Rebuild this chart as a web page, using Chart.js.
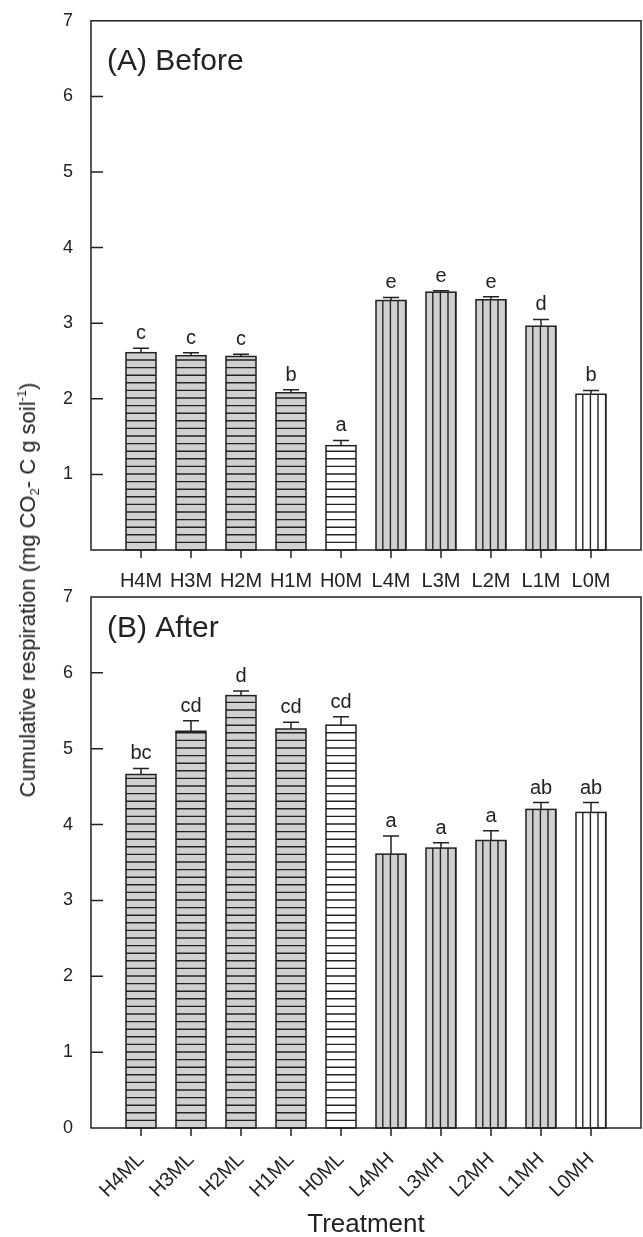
<!DOCTYPE html>
<html>
<head>
<meta charset="utf-8">
<script src="https://cdn.jsdelivr.net/npm/chart.js@4.4.1/dist/chart.umd.min.js"></script>
<style>
html, body { margin: 0; padding: 0; background: #fff; overflow: hidden; }
#wrap { position: relative; width: 643px; height: 1237px; overflow: hidden; }
#chartA { position: absolute; left: 0; top: 0; }
#chartB { position: absolute; left: 0; top: 560px; }
#ytitle {
    position: absolute; left: 28px; top: 590px;
    transform: translate(-50%, -50%) rotate(-90deg);
    white-space: nowrap; line-height: 1;
    font: 22px 'Liberation Sans', Arial, sans-serif; color: #222;
}
#ytitle sub, #ytitle sup { font-size: 13px; line-height: 0; position: relative; vertical-align: baseline; }
#ytitle sub { top: 4px; }
#ytitle sup { top: -9px; }
</style>
</head>
<body>
<div id="wrap">
    <canvas id="chartA" width="643" height="595"></canvas>
    <canvas id="chartB" width="643" height="690"></canvas>
    <div id="ytitle">Cumulative respiration (mg CO<sub>2</sub>- C g soil<sup>-1</sup>)</div>
</div>
<script>
// 数据 (A) Before
const labelsA = ['H4M', 'H3M', 'H2M', 'H1M', 'H0M', 'L4M', 'L3M', 'L2M', 'L1M', 'L0M'];
const valuesA = [2.61, 2.57, 2.56, 2.08, 1.38, 3.30, 3.41, 3.31, 2.96, 2.06];
const errorsA = [0.06, 0.04, 0.03, 0.04, 0.07, 0.04, 0.02, 0.04, 0.09, 0.05];
const lettersA = ['c', 'c', 'c', 'b', 'a', 'e', 'e', 'e', 'd', 'b'];
const yTicksA = [1, 2, 3, 4, 5, 6, 7];

// 数据 (B) After
const labelsB = ['H4ML', 'H3ML', 'H2ML', 'H1ML', 'H0ML', 'L4MH', 'L3MH', 'L2MH', 'L1MH', 'L0MH'];
const valuesB = [4.66, 5.23, 5.70, 5.26, 5.31, 3.61, 3.69, 3.79, 4.20, 4.16];
const errorsB = [0.08, 0.14, 0.06, 0.09, 0.11, 0.24, 0.07, 0.13, 0.09, 0.13];
const lettersB = ['bc', 'cd', 'd', 'cd', 'cd', 'a', 'a', 'a', 'ab', 'ab'];
const yTicksB = [0, 1, 2, 3, 4, 5, 6, 7];

const FONT = "'Liberation Sans', Arial, sans-serif";
const INK = '#222';
const GRAY = '#d0d0d0';

// 画误差线、字母、阴影线、边框和刻度
const panelPlugin = {
    id: 'panel',
    afterDatasetsDraw(chart, args, opts) {
        const ctx = chart.ctx;
        const yScale = chart.scales.y;
        const ds = chart.data.datasets[0];
        const meta = chart.getDatasetMeta(0);
        meta.data.forEach((bar, i) => {
            const v = ds.data[i];
            if (v == null) return;
            const { x, y, base, width } = bar.getProps(['x', 'y', 'base', 'width'], true);
            const left = x - width / 2, right = x + width / 2;
            const label = chart.data.labels[i];

            // 阴影线
            ctx.save();
            ctx.beginPath();
            ctx.rect(left, y, width, base - y);
            ctx.clip();
            ctx.strokeStyle = INK;
            ctx.lineWidth = 1.4;
            ctx.beginPath();
            if (label[0] === 'H') {
                for (let yy = base - 7.6; yy > y + 1.5; yy -= 7.6) {
                    ctx.moveTo(left, yy);
                    ctx.lineTo(right, yy);
                }
            } else {
                for (let xx = left + 6.8; xx < right; xx += 7.6) {
                    ctx.moveTo(xx, y);
                    ctx.lineTo(xx, base);
                }
            }
            ctx.stroke();
            ctx.restore();

            ctx.save();
            ctx.strokeStyle = INK;
            ctx.lineWidth = 1.5;
            ctx.strokeRect(left, y, width, base - y);

            // 误差线
            const e = opts.errors[i - 1];
            const yErr = yScale.getPixelForValue(v + e);
            ctx.beginPath();
            ctx.moveTo(x, y);
            ctx.lineTo(x, yErr);
            ctx.moveTo(x - 8, yErr);
            ctx.lineTo(x + 8, yErr);
            ctx.stroke();

            // 显著性字母
            ctx.fillStyle = INK;
            ctx.font = '20px ' + FONT;
            ctx.textAlign = 'center';
            ctx.textBaseline = 'alphabetic';
            ctx.fillText(opts.letters[i - 1], x, yErr - 9);
            ctx.restore();
        });
    },
    afterDraw(chart, args, opts) {
        const ctx = chart.ctx;
        const a = chart.chartArea;
        const xScale = chart.scales.x;
        const yScale = chart.scales.y;
        ctx.save();
        ctx.strokeStyle = INK;
        ctx.lineWidth = 1.5;
        ctx.strokeRect(a.left, a.top, a.right - a.left, a.bottom - a.top);

        ctx.beginPath();
        opts.yTicks.forEach(t => {
            if (t <= yScale.min || t >= yScale.max) return;
            const py = yScale.getPixelForValue(t);
            ctx.moveTo(a.left, py);
            ctx.lineTo(a.left + 12, py);
        });
        for (let i = 1; i < chart.data.labels.length - 1; i++) {
            const px = xScale.getPixelForValue(i);
            ctx.moveTo(px, a.bottom);
            ctx.lineTo(px, a.bottom + 8);
        }
        ctx.stroke();

        ctx.fillStyle = INK;
        ctx.font = '30px ' + FONT;
        ctx.textAlign = 'left';
        ctx.textBaseline = 'alphabetic';
        ctx.fillText(opts.title, a.left + 16, a.top + opts.titleOffset);
        ctx.restore();
    }
};

function makeChart(id, labels, values, errors, letters, yTicks, cfg) {
    const ctx = document.getElementById(id).getContext('2d');
    return new Chart(ctx, {
        type: 'bar',
        data: {
            labels: [''].concat(labels, ['']),
            datasets: [{
                data: [null].concat(values, [null]),
                backgroundColor: [null].concat(labels.map(l => l.indexOf('0') >= 0 ? '#ffffff' : GRAY), [null]),
                borderWidth: 0,
                barThickness: 30
            }]
        },
        options: {
            responsive: false,
            animation: false,
            events: [],
            layout: { padding: { top: cfg.top, right: 2, left: 0, bottom: 0 } },
            plugins: {
                legend: { display: false },
                tooltip: { enabled: false },
                panel: { errors: errors, letters: letters, yTicks: yTicks, title: cfg.title, titleOffset: cfg.titleOffset }
            },
            scales: {
                x: {
                    type: 'category',
                    offset: false,
                    grid: { display: false },
                    border: { display: false },
                    ticks: {
                        autoSkip: false,
                        minRotation: cfg.rotation,
                        maxRotation: cfg.rotation,
                        padding: cfg.labelPad,
                        color: INK,
                        font: { family: FONT, size: 20 }
                    },
                    title: cfg.xTitle ? {
                        display: true,
                        text: cfg.xTitle,
                        color: INK,
                        font: { family: FONT, size: 26 },
                        padding: { top: 0, bottom: 10 }
                    } : { display: false },
                    afterFit(scale) {
                        scale.height = cfg.xHeight;
                        scale.paddingLeft = 0;
                        scale.paddingRight = 0;
                    }
                },
                y: {
                    min: 0,
                    max: 7,
                    grid: { display: false },
                    border: { display: false },
                    ticks: {
                        stepSize: 1,
                        padding: 10,
                        color: INK,
                        font: { family: FONT, size: 18 },
                        callback: v => yTicks.includes(v) ? String(v) : ''
                    },
                    afterFit(scale) { scale.width = 91; }
                }
            }
        },
        plugins: [panelPlugin]
    });
}

document.addEventListener('DOMContentLoaded', function() {
    makeChart('chartA', labelsA, valuesA, errorsA, lettersA, yTicksA, {
        top: 18, xHeight: 45, rotation: 0, labelPad: 11, title: '(A) Before', titleOffset: 49
    });
    makeChart('chartB', labelsB, valuesB, errorsB, lettersB, yTicksB, {
        top: 37, xHeight: 122, rotation: 45, labelPad: 12, title: '(B) After', titleOffset: 40, xTitle: 'Treatment'
    });
});
</script>
</body>
</html>
